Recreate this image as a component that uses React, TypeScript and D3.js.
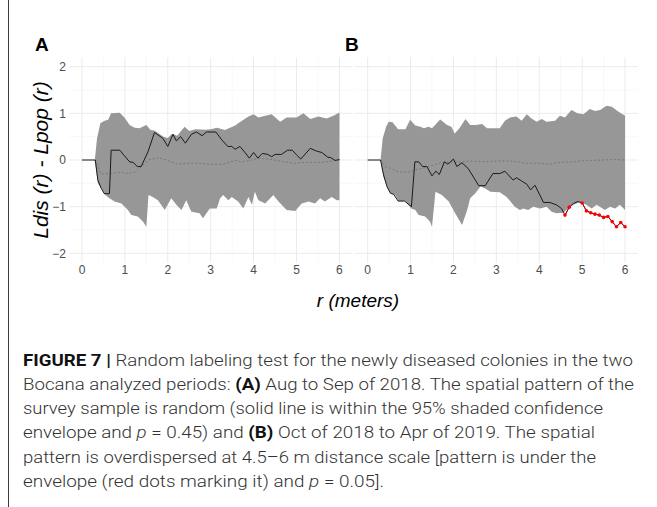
import React from "react";
import * as d3 from "d3";

type P = [number, number];

const xTicks = [0, 1, 2, 3, 4, 5, 6];
const yTicks = [-2, -1, 0, 1, 2];
const yTickLabels = ["−2", "−1", "0", "1", "2"];
const xMinor = [-0.5, 0.5, 1.5, 2.5, 3.5, 4.5, 5.5];
const yMinor = [-1.5, -0.5, 0.5, 1.5];

const upperA: P[] = [[0.3,0],[0.35,0.46],[0.43,0.79],[0.53,0.84],[0.61,0.86],[0.68,1.0],[0.88,1.01],[0.99,0.91],[1.11,0.75],[1.23,0.69],[1.34,0.68],[1.5,0.75],[1.6,0.64],[1.69,0.63],[1.9,0.5],[2.0,0.47],[2.1,0.56],[2.22,0.52],[2.39,0.71],[2.5,0.62],[2.65,0.66],[2.87,0.65],[3.0,0.66],[3.15,0.69],[3.33,0.64],[3.57,0.74],[3.65,0.79],[3.88,0.93],[4.0,0.98],[4.11,0.91],[4.27,0.95],[4.42,0.98],[4.62,0.82],[4.77,0.91],[5.0,0.91],[5.16,1.0],[5.32,0.88],[5.51,0.93],[5.7,0.89],[5.86,0.95],[6.0,1.02]];
const lowerA: P[] = [[0.3,0],[0.37,-0.5],[0.45,-0.61],[0.53,-0.74],[0.64,-0.82],[0.76,-0.89],[0.92,-0.93],[1.07,-1.07],[1.15,-1.18],[1.3,-1.21],[1.42,-1.32],[1.5,-1.43],[1.55,-0.75],[1.65,-0.79],[1.77,-0.86],[1.93,-1.07],[2.08,-0.82],[2.2,-0.96],[2.32,-1.07],[2.43,-0.86],[2.55,-1.11],[2.74,-1.14],[2.82,-1.25],[2.98,-1.04],[3.14,-1.04],[3.22,-0.82],[3.29,-0.75],[3.41,-0.86],[3.49,-0.79],[3.64,-0.89],[3.76,-1.04],[3.88,-0.79],[3.96,-0.96],[4.03,-0.68],[4.11,-0.86],[4.27,-0.93],[4.46,-0.75],[4.58,-0.89],[4.77,-1.07],[4.97,-1.09],[5.12,-0.93],[5.28,-0.89],[5.43,-0.93],[5.55,-0.82],[5.66,-0.89],[5.82,-0.79],[5.94,-0.86],[6.0,-0.86]];
const obsA: P[] = [[0,0],[0.31,0],[0.37,-0.43],[0.45,-0.61],[0.52,-0.72],[0.64,-0.72],[0.68,0.21],[0.88,0.21],[0.99,0.09],[1.11,-0.04],[1.19,-0.05],[1.29,-0.14],[1.38,-0.14],[1.54,0.18],[1.69,0.59],[1.89,0.46],[2.0,0.29],[2.12,0.55],[2.2,0.41],[2.3,0.5],[2.41,0.36],[2.55,0.55],[2.67,0.6],[2.8,0.52],[2.9,0.6],[3.12,0.6],[3.26,0.43],[3.4,0.29],[3.49,0.29],[3.57,0.23],[3.68,0.29],[3.8,0.16],[3.9,0.04],[4.0,0.16],[4.1,0.04],[4.2,0.14],[4.33,0.12],[4.42,0.07],[4.5,0.12],[4.65,0.12],[4.79,0.21],[4.9,0.21],[5.0,0.11],[5.1,0.02],[5.32,0.25],[5.47,0.19],[5.59,0.16],[5.73,0.06],[5.8,0.05],[5.9,-0.01],[6.0,0.01]];
const theoA: P[] = [[0.3,0],[0.45,-0.3],[0.68,-0.29],[0.92,-0.26],[1.07,-0.29],[1.23,-0.26],[1.34,-0.18],[1.54,0],[1.77,0.05],[1.97,0],[2.24,-0.09],[2.47,-0.07],[2.7,-0.07],[2.98,-0.09],[3.3,-0.09],[3.57,-0.01],[3.72,-0.04],[3.96,0],[4.11,0.04],[4.34,0.02],[4.73,-0.04],[4.97,-0.07],[5.2,-0.05],[5.59,-0.05],[5.82,-0.02],[6.0,0]];

const upperB: P[] = [[0.3,0],[0.35,0.46],[0.43,0.71],[0.49,0.82],[0.58,0.81],[0.71,0.66],[0.88,0.66],[0.99,0.86],[1.11,0.74],[1.23,0.71],[1.31,0.68],[1.42,0.71],[1.5,0.68],[1.69,0.87],[1.85,0.75],[1.95,0.71],[2.03,0.57],[2.14,0.68],[2.28,0.88],[2.39,0.75],[2.51,0.75],[2.67,0.77],[2.78,0.68],[3.08,0.68],[3.2,0.84],[3.32,0.91],[3.47,0.93],[3.59,0.84],[3.71,0.98],[3.82,0.89],[3.94,0.82],[4.06,0.88],[4.17,0.82],[4.37,0.84],[4.48,0.95],[4.6,0.91],[4.75,1.07],[4.89,1.0],[5.03,0.98],[5.18,1.09],[5.3,1.05],[5.42,1.07],[5.57,1.16],[5.69,1.14],[5.84,1.04],[6.0,0.95]];
const lowerB: P[] = [[0.3,0],[0.37,-0.36],[0.45,-0.57],[0.53,-0.71],[0.64,-0.75],[0.72,-0.88],[0.88,-0.88],[1.02,-1.04],[1.11,-1.07],[1.19,-1.18],[1.34,-1.21],[1.45,-1.32],[1.5,-1.43],[1.58,-0.68],[1.73,-0.75],[1.89,-0.89],[2.04,-1.14],[2.2,-1.39],[2.32,-1.07],[2.39,-0.82],[2.51,-0.71],[2.63,-0.57],[2.74,-0.61],[2.86,-0.68],[3.08,-0.69],[3.24,-0.79],[3.43,-1.0],[3.55,-1.07],[3.63,-1.04],[3.74,-1.07],[3.86,-1.0],[4.02,-1.04],[4.17,-1.0],[4.29,-1.11],[4.4,-1.14],[4.56,-1.13],[4.73,-0.99],[4.83,-0.95],[4.95,-0.9],[5.1,-0.96],[5.22,-1.04],[5.34,-0.96],[5.53,-1.07],[5.65,-1.0],[5.77,-1.04],[5.88,-0.96],[6.0,-1.07]];
const obsB: P[] = [[0,0],[0.3,0],[0.37,-0.32],[0.45,-0.57],[0.53,-0.71],[0.61,-0.74],[0.71,-0.88],[0.86,-0.88],[1.02,-1.0],[1.1,-0.04],[1.19,-0.04],[1.28,-0.14],[1.38,-0.14],[1.5,-0.34],[1.59,-0.24],[1.67,-0.31],[1.79,-0.04],[1.87,-0.09],[2.0,0.02],[2.08,-0.14],[2.2,-0.06],[2.34,-0.18],[2.51,-0.43],[2.59,-0.55],[2.74,-0.55],[2.92,-0.29],[3.08,-0.29],[3.2,-0.24],[3.39,-0.43],[3.47,-0.38],[3.59,-0.45],[3.71,-0.52],[3.8,-0.64],[3.9,-0.54],[4.1,-0.91],[4.25,-0.91],[4.4,-0.96],[4.52,-1.04],[4.6,-1.18],[4.7,-1.01],[4.8,-0.93],[4.9,-0.89],[5.0,-0.92],[5.1,-1.09],[5.2,-1.13],[5.3,-1.16],[5.4,-1.18],[5.5,-1.23],[5.6,-1.21],[5.7,-1.32],[5.8,-1.43],[5.9,-1.34],[6.0,-1.43]];
const theoB: P[] = [[0.3,0],[0.41,-0.14],[0.57,-0.19],[0.72,-0.26],[0.96,-0.26],[1.11,-0.21],[1.27,-0.18],[1.5,-0.12],[1.73,-0.05],[1.97,-0.04],[2.2,-0.04],[2.35,-0.02],[2.67,-0.04],[3.01,-0.02],[3.24,-0.02],[3.51,-0.04],[3.71,-0.07],[4.02,-0.07],[4.21,-0.09],[4.48,-0.05],[4.79,-0.04],[5.1,-0.01],[5.49,0],[5.73,0.01],[6.0,0]];
const redB = [4.6, 4.7, 5.0, 5.1, 5.2, 5.3, 5.4, 5.5, 5.6, 5.7, 5.8, 5.9, 6.0];

const captionLines: { parts: { t: string; b?: boolean; i?: boolean }[]; w: number }[] = [
  { parts: [{ t: "FIGURE 7 | ", b: true }, { t: "Random labeling test for the newly diseased colonies in the two" }], w: 610 },
  { parts: [{ t: "Bocana analyzed periods: " }, { t: "(A)", b: true }, { t: " Aug to Sep of 2018. The spatial pattern of the" }], w: 611 },
  { parts: [{ t: "survey sample is random (solid line is within the 95% shaded confidence" }], w: 580 },
  { parts: [{ t: "envelope and " }, { t: "p", i: true }, { t: " = 0.45) and " }, { t: "(B)", b: true }, { t: " Oct of 2018 to Apr of 2019. The spatial" }], w: 572 },
  { parts: [{ t: "pattern is overdispersed at 4.5–6 m distance scale [pattern is under the" }], w: 573 },
  { parts: [{ t: "envelope (red dots marking it) and " }, { t: "p", i: true }, { t: " = 0.05]." }], w: 361 },
];

const FONT = "Liberation Sans, Arial, sans-serif";

const y = d3.scaleLinear().domain([-2.2, 2.2]).range([262.7, 57.3]);

function Panel({ x, upper, lower, obs, theo, red, label, labelX, showY }: any) {
  const line = d3.line<P>().x((d) => x(d[0])).y((d) => y(d[1]));
  const env = [...upper, ...lower.slice().reverse()];
  const [x0, x1] = x.range();
  const redPts: P[] = (red || []).map((r: number) => obs.find((p: P) => Math.abs(p[0] - r) < 1e-6) as P);
  const redSegs: P[][] = [];
  for (let i = 1; i < redPts.length; i++) {
    if (Math.abs(redPts[i][0] - redPts[i - 1][0] - 0.1) < 1e-6) redSegs.push([redPts[i - 1], redPts[i]]);
  }
  return (
    <g>
      {yMinor.map((v) => (
        <line key={"ym" + v} x1={x0} x2={x1} y1={y(v)} y2={y(v)} stroke="#f4f4f4" strokeWidth={0.6} />
      ))}
      {xMinor.filter((v) => x(v) >= x0).map((v) => (
        <line key={"xm" + v} x1={x(v)} x2={x(v)} y1={y(-2.2)} y2={y(2.2)} stroke="#f4f4f4" strokeWidth={0.6} />
      ))}
      {yTicks.map((v) => (
        <line key={"y" + v} x1={x0} x2={x1} y1={y(v)} y2={y(v)} stroke="#ebebeb" strokeWidth={1} />
      ))}
      {xTicks.map((v) => (
        <line key={"x" + v} x1={x(v)} x2={x(v)} y1={y(-2.2)} y2={y(2.2)} stroke="#ebebeb" strokeWidth={1} />
      ))}
      <path d={line(env) + "Z"} fill="#979797" stroke="none" />
      <path d={line(theo) || ""} fill="none" stroke="#6e6e6e" strokeWidth={0.8} strokeDasharray="2,2" />
      <path d={line(obs) || ""} fill="none" stroke="#1a1a1a" strokeWidth={1} />
      {redSegs.map((s, i) => (
        <path key={"rs" + i} d={line(s) || ""} stroke="#cc0000" strokeWidth={0.9} fill="none" />
      ))}
      {redPts.map((p, i) => (
        <circle key={"rp" + i} cx={x(p[0])} cy={y(p[1])} r={1.8} fill="#ff0000" />
      ))}
      {xTicks.map((v) => (
        <text key={"xt" + v} x={x(v)} y={274} textAnchor="middle" fontSize={12} fill="#4d4d4d" style={{ fontFamily: FONT }}>
          {v}
        </text>
      ))}
      {showY &&
        yTicks.map((v, i) => (
          <text key={"yt" + v} x={66} y={y(v) + 4.2} textAnchor="end" fontSize={12} fill="#4d4d4d" style={{ fontFamily: FONT }}>
            {yTickLabels[i]}
          </text>
        ))}
      <text x={labelX} y={50.5} fontSize={19} fontWeight="bold" fill="#000" style={{ fontFamily: FONT }}>
        {label}
      </text>
    </g>
  );
}

export default function App() {
  const xA = d3.scaleLinear().domain([-0.3, 6.3]).range([69.1, 352.3]);
  const xB = d3.scaleLinear().domain([-0.3, 6.3]).range([354.8, 637.9]);
  const capY0 = 365.5;
  const capDy = 24.3;
  return (
    <svg width={657} height={507} style={{ position: "absolute", left: 0, top: 0, background: "#fff" }}>
      <rect x={0} y={0} width={657} height={507} fill="#fff" />
      <line x1={8.5} x2={8.5} y1={0} y2={507} stroke="#3c3c3c" strokeWidth={1} />
      <Panel x={xA} upper={upperA} lower={lowerA} obs={obsA} theo={theoA} label="A" labelX={35} showY />
      <Panel x={xB} upper={upperB} lower={lowerB} obs={obsB} theo={theoB} red={redB} label="B" labelX={345} />
      <text
        transform="translate(48,160) rotate(-90)"
        textAnchor="middle"
        fontSize={21}
        fontStyle="italic"
        fill="#000"
        style={{ fontFamily: FONT }}
      >
        Ldis (r) - Lpop (r)
      </text>
      <text x={358} y={307} textAnchor="middle" fontSize={19} fontStyle="italic" fill="#000" style={{ fontFamily: FONT }}>
        r (meters)
      </text>
      {captionLines.map((ln, i) => (
        <text
          key={i}
          x={23}
          y={capY0 + i * capDy}
          fontSize={16.5}
          fill="#333"
          style={{ fontFamily: "Roboto, Liberation Sans, sans-serif" }}
          fontWeight={300}
          textLength={ln.w}
          lengthAdjust="spacingAndGlyphs"
        >
          {ln.parts.map((p, j) => (
            <tspan key={j} fontWeight={p.b ? 700 : 300} fontStyle={p.i ? "italic" : "normal"} fill={p.b ? "#111" : "#333"}>
              {p.t}
            </tspan>
          ))}
        </text>
      ))}
    </svg>
  );
}
